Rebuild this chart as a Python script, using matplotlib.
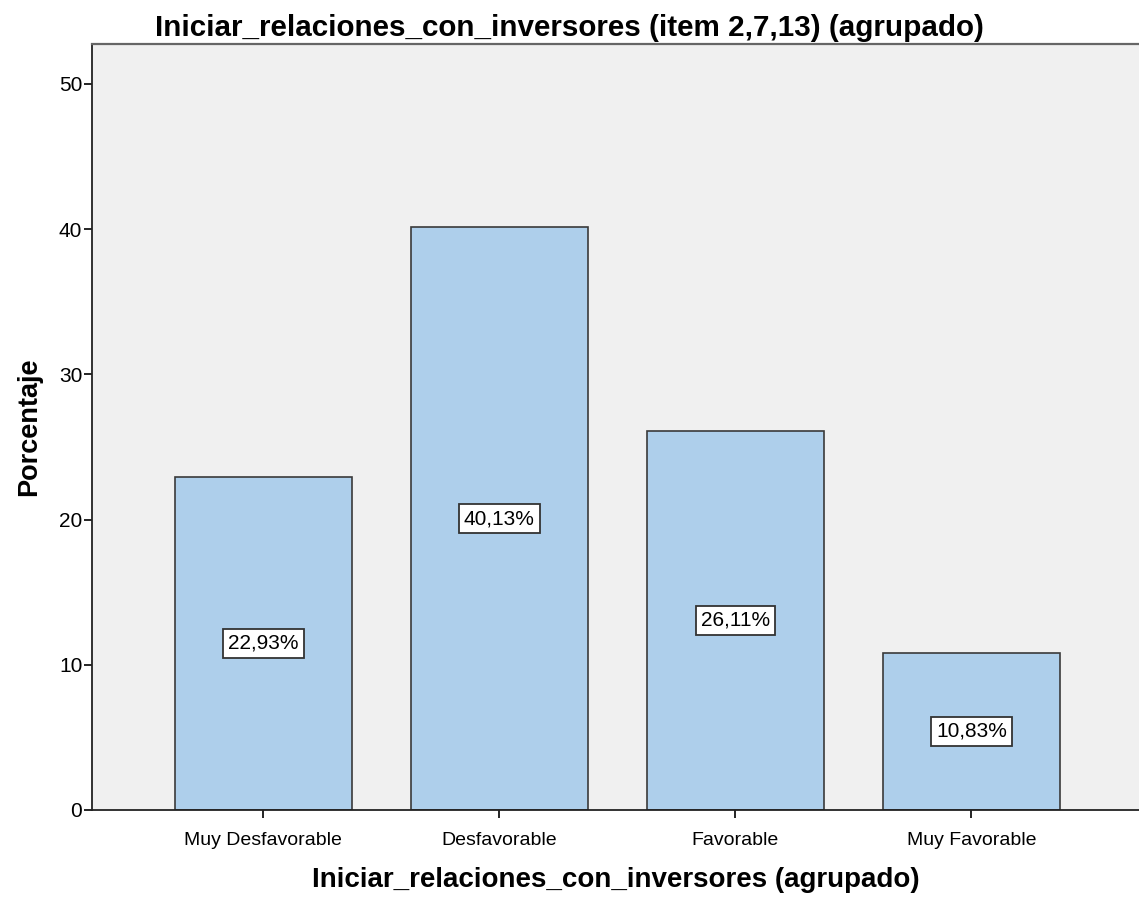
import matplotlib
matplotlib.use("Agg")
import matplotlib.pyplot as plt

plt.rcParams['font.family'] = ['Liberation Sans', 'DejaVu Sans']

categorias = ["Muy Desfavorable", "Desfavorable", "Favorable", "Muy Favorable"]
porcentajes = [22.93, 40.13, 26.11, 10.83]
etiquetas = ["22,93%", "40,13%", "26,11%", "10,83%"]

fig = plt.figure(figsize=(11.39, 8.97), dpi=100)
ax = fig.add_axes([0.0808, 0.097, 0.9192, 0.854])
ax.set_facecolor("#f0f0f0")

x = list(range(len(categorias)))
ax.bar(x, porcentajes, width=0.75, color="#aecfeb", edgecolor="#3a3a3a", linewidth=1.2, zorder=2)

# etiqueta en el centro de cada barra
for xi, v, lab in zip(x, porcentajes, etiquetas):
    ax.text(xi, v / 2, lab, ha="center", va="center", fontsize=15, zorder=3,
            bbox=dict(boxstyle="square,pad=0.25", facecolor="white", edgecolor="#333333", linewidth=1.3))

ax.set_xlim(-0.725, 3.71)
ax.set_ylim(0, 52.75)
ax.set_yticks([0, 10, 20, 30, 40, 50])
ax.set_xticks(x)
ax.set_xticklabels(categorias, fontsize=14)
ax.tick_params(axis="y", labelsize=15, length=6, width=1.2, pad=1)
ax.tick_params(axis="x", length=6, width=1.2, pad=10)

for s in ["left", "bottom"]:
    ax.spines[s].set_linewidth(1.3)
    ax.spines[s].set_color("#222222")
ax.spines["top"].set_linewidth(1.6)
ax.spines["top"].set_color("#666666")
ax.spines["right"].set_visible(False)

ax.set_xlabel("Iniciar_relaciones_con_inversores (agrupado)", fontsize=20, fontweight="bold", labelpad=13)
ax.set_ylabel("Porcentaje", fontsize=19.5, fontweight="bold", labelpad=12)
fig.text(0.5, 0.969, "Iniciar_relaciones_con_inversores (item 2,7,13) (agrupado)",
         ha="center", va="center", fontsize=21.3, fontweight="bold")

fig.savefig("out.png", dpi=100)
